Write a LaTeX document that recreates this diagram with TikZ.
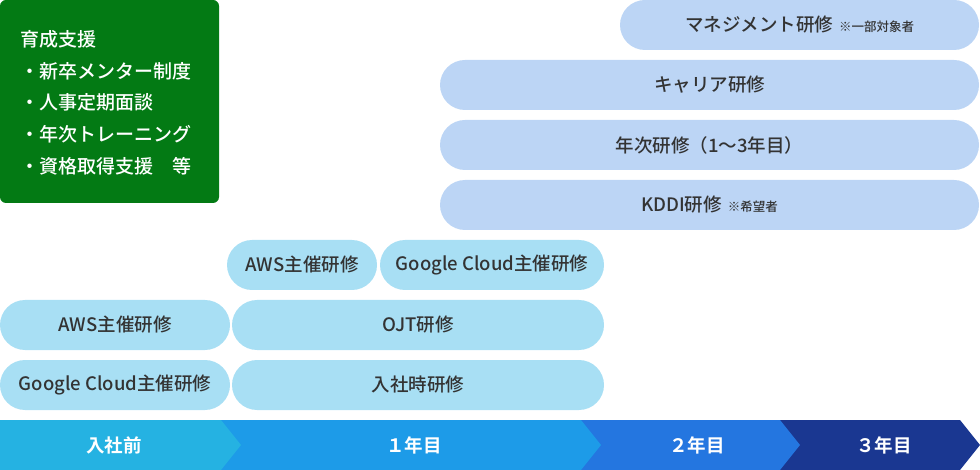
\documentclass[tikz,border=0pt]{standalone}
\usepackage{fontspec}
\setmainfont{Noto Sans CJK JP}[BoldFont={Noto Sans CJK JP Medium}]
\newfontfamily\heavyjp{Noto Sans CJK JP Bold}
\usepackage{xcolor}
\usepackage{tikz}
\usetikzlibrary{positioning}

\begin{document}
\begin{tikzpicture}[x=1pt,y=-1pt]
    \definecolor{mygreen}{RGB}{3,122,20}
    \definecolor{mylav}{RGB}{188,213,245}
    \definecolor{mycyan}{RGB}{168,223,244}
    \definecolor{mybar0}{RGB}{37,178,226}
    \definecolor{mybar1}{RGB}{29,155,232}
    \definecolor{mybar2}{RGB}{36,118,224}
    \definecolor{mybar3}{RGB}{26,55,145}
    \definecolor{mytext}{RGB}{51,51,51}

    \useasboundingbox (0,0) rectangle (980,470);
    \tikzstyle{pill}=[rectangle,rounded corners=25pt,minimum height=50pt,inner sep=2pt,outer sep=0pt,text=mytext,font=\fontsize{18.5pt}{20pt}\selectfont\bfseries]  % 研修の枠
    \tikzstyle{upper}=[pill,fill=mylav]
    \tikzstyle{lower}=[pill,fill=mycyan]
    \tikzstyle{barlabel}=[text=white,font=\fontsize{18.5pt}{20pt}\selectfont\heavyjp]  % 年次ラベル
    \newcommand{\note}[1]{\hspace{6pt}{\fontsize{12.5pt}{12.5pt}\selectfont #1}}

    % 育成支援
    \node[rectangle,rounded corners=6pt,fill=mygreen,minimum width=219pt,minimum height=203pt,anchor=north west,outer sep=0pt](support) at (0,0){};
    \node[anchor=north west,text=white,align=left,inner sep=0pt,font=\fontsize{19pt}{31.6pt}\selectfont\bfseries](supporttext) at (20,30.5){育成支援\\・新卒メンター制度\\・人事定期面談\\・年次トレーニング\\・資格取得支援　等};

    % 上段の研修
    \node[upper,minimum width=539pt](career) at (709.5,85){キャリア研修};
    \node[upper,minimum width=359pt,anchor=south east](mgmt) at ([yshift=10pt]career.north east){マネジメント研修\note{※一部対象者}};
    \node[upper,minimum width=539pt,below=10pt of career](annual){年次研修（1～3年目）};
    \node[upper,minimum width=539pt,below=10pt of annual](kddi){KDDI研修\note{※希望者}};

    % 下段の研修
    \node[lower,minimum width=372pt](ojt) at (418,325){OJT研修};
    \node[lower,minimum width=372pt,below=10pt of ojt](intro){入社時研修};
    \node[lower,minimum width=230pt,left=2pt of ojt](aws1){AWS主催研修};
    \node[lower,minimum width=230pt,below=10pt of aws1](gc1){Google Cloud主催研修};
    \node[lower,minimum width=150pt](aws2) at (302,265){AWS主催研修};
    \node[lower,minimum width=224pt,anchor=south east](gc2) at ([yshift=10pt]ojt.north east){Google Cloud主催研修};

    % 時間軸
    \fill[mybar3] (780,420) -- (960,420) -- (980,445) -- (960,470) -- (780,470) -- cycle;
    \fill[mybar2] (581,420) -- (780,420) -- (800,445) -- (780,470) -- (581,470) -- cycle;
    \fill[mybar1] (221,420) -- (581,420) -- (601,445) -- (581,470) -- (221,470) -- cycle;
    \fill[mybar0] (0,420) -- (221,420) -- (241,445) -- (221,470) -- (0,470) -- cycle;
    \node[barlabel](pre) at (114,445){入社前};
    \node[barlabel](y1) at (414,445){１年目};
    \node[barlabel](y2) at (697,445){２年目};
    \node[barlabel](y3) at (884,445){３年目};
\end{tikzpicture}
\end{document}
